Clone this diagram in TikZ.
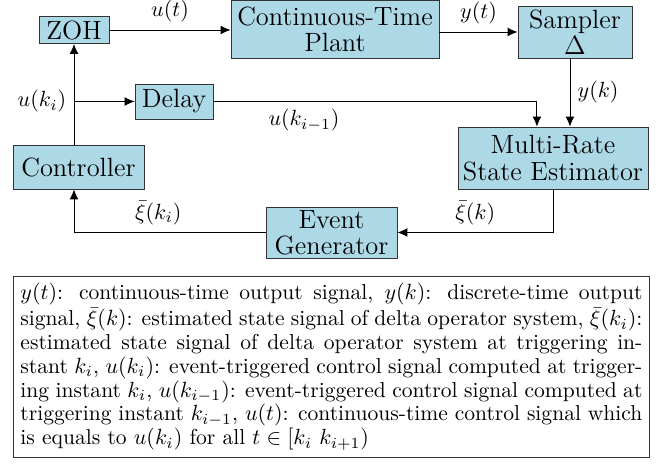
\documentclass[tikz,border=0pt]{standalone}
\usepackage{amsmath}
\usepackage{amssymb}
\usetikzlibrary{arrows.meta}
\newdimen\pxu \pxu=0.4545pt
\definecolor{blockblue}{RGB}{173,216,230}
\tikzset{
  block/.style={draw=black!80, fill=blockblue, align=center, font=\fontsize{12}{12}\selectfont, inner sep=1pt},
  sig/.style={-{Latex[length=4.5pt,width=4pt]}}
}

\begin{document}
\begin{tikzpicture}[x=\pxu,y=-\pxu]
\useasboundingbox (0,0) rectangle (656,469);

% blocks of the loop
\node[block, minimum width=70\pxu, minimum height=27\pxu] (zoh) at (74,30) {ZOH};
\node[block, minimum width=208\pxu, minimum height=58\pxu] (plant) at (335,29.5) {Continuous-Time\\Plant};
\node[block, minimum width=114\pxu, minimum height=52\pxu] (sampler) at (575,32) {Sampler\\$\Delta$};
\node[block, minimum width=78\pxu, minimum height=35\pxu] (delay) at (174,101.5) {Delay};
\node[block, minimum width=131\pxu, minimum height=44\pxu] (ctrl) at (78.5,167) {Controller};
\node[block, minimum width=190\pxu, minimum height=62\pxu] (estim) at (553,158) {Multi-Rate\\State Estimator};
\node[block, minimum width=131\pxu, minimum height=51\pxu] (event) at (331.5,232.5) {Event\\Generator};
\coordinate (branch) at (zoh |- delay);

% signals
\draw[sig] (zoh.east) -- node[above] {$u(t)$} (zoh.east -| plant.west);
\draw[sig] (sampler.west -| plant.east) -- node[above] {$y(t)$} (sampler.west);
\draw[sig] ([xshift=-2.3pt]sampler.south) -- node[right] {$y(k)$} ([xshift=-2.3pt]sampler.south |- estim.north);
\draw[sig] (delay.east) -| node[pos=0.14,below] {$u(k_{i-1})$} ([xshift=-7.3pt]estim.north);
\draw[sig] (ctrl.north -| zoh) -- (zoh.south);
\draw[sig] (branch) -- (delay.west);
\node[left] at (branch) {$u(k_i)$};
\draw[sig] (estim.south) |- node[pos=0.75,above] {$\bar{\xi}(k)$} (event.east);
\draw[sig] (event.west) -| node[pos=0.28,above] {$\bar{\xi}(k_i)$} (ctrl.south -| zoh);

% notation
\node[draw=black!80, text width=622\pxu, align=justify, inner sep=7\pxu, anchor=north west,
      font=\fontsize{9.8}{10.8}\selectfont] (legend) at (13,276)
  {$y(t)$: continuous-time output signal, $y(k)$: discrete-time output signal, $\bar{\xi}(k)$: estimated state signal of delta operator system, $\bar{\xi}(k_i)$: estimated state signal of delta operator system at triggering instant $k_i$, $u(k_i)$: event-triggered control signal computed at triggering instant $k_i$, $u(k_{i-1})$: event-triggered control signal computed at triggering instant $k_{i-1}$, $u(t)$: continuous-time control signal which is equals to $u(k_i)$ for all $t\in[k_i\ k_{i+1})$};
\end{tikzpicture}
\end{document}
